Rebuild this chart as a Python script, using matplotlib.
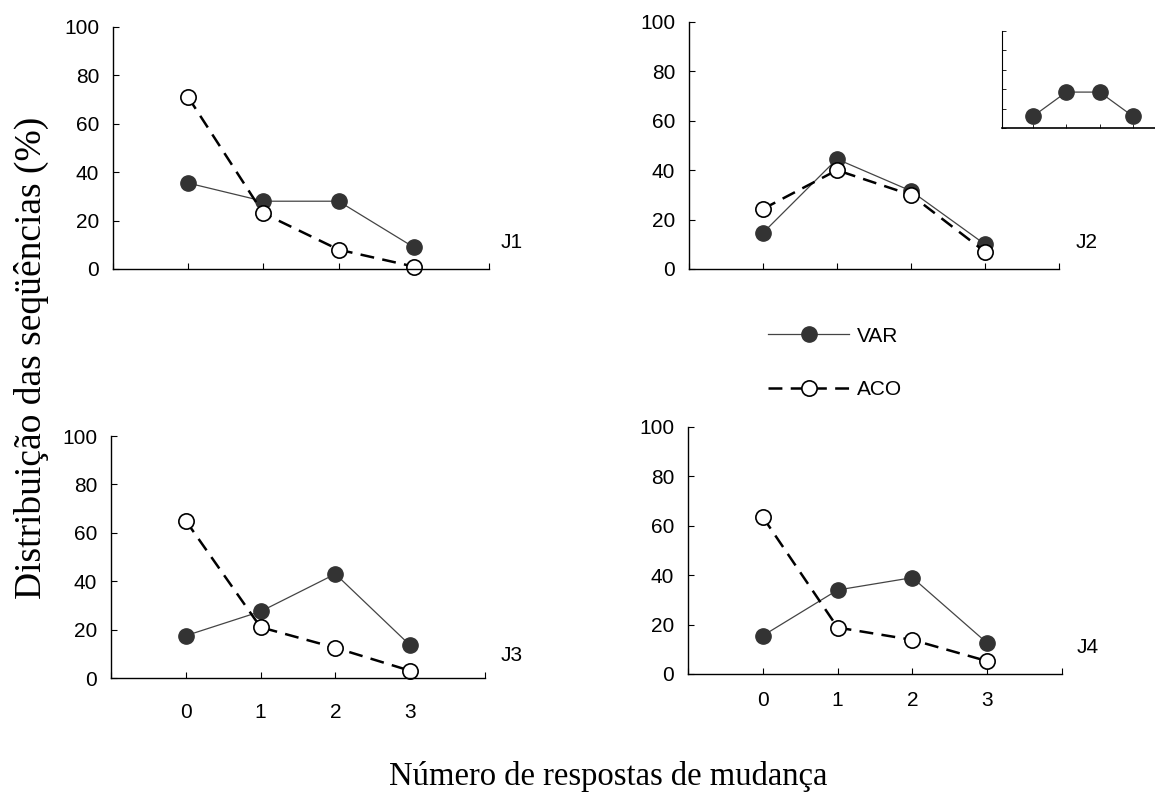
import matplotlib
matplotlib.use('Agg')
import matplotlib.pyplot as plt
from matplotlib.lines import Line2D

plt.rcParams['font.family'] = ['Liberation Sans', 'DejaVu Sans']
plt.rcParams['lines.scale_dashes'] = False

# dados (%)
categorias = [0, 1, 2, 3]
var_j1 = [35.5, 28, 28, 9]
aco_j1 = [71, 23, 8, 1]
var_j2 = [14.6, 44.5, 31.6, 10]
aco_j2 = [24.3, 40, 30, 7]
var_j3 = [17.5, 27.5, 43, 13.5]
aco_j3 = [65, 21, 12.5, 3]
var_j4 = [15.5, 34, 39, 12.5]
aco_j4 = [63.5, 18.8, 13.8, 5.2]
inset_vals = [0.6, 1.85, 1.85, 0.6]
y_ticks = [0, 20, 40, 60, 80, 100]
painel_nomes = ['J1', 'J2', 'J3', 'J4']

fill_c = '#333333'
var_style = dict(color='#444444', lw=0.9, marker='o', ms=11,
                 mfc=fill_c, mec=fill_c)
aco_style = dict(color='black', lw=1.8, dashes=(10, 6), marker='o', ms=11,
                 mfc='white', mec='black', mew=1.2)

fig = plt.figure(figsize=(11.55, 7.96), dpi=100)

# posicoes dos paineis (fracoes da figura)
posicoes = [
    [0.0978, 0.6621, 0.3255, 0.3040],
    [0.5965, 0.6621, 0.3203, 0.3103],
    [0.0961, 0.1482, 0.3238, 0.3040],
    [0.5957, 0.1533, 0.3238, 0.3103],
]
dados = [(var_j1, aco_j1), (var_j2, aco_j2), (var_j3, aco_j3), (var_j4, aco_j4)]
pads_x = [8, 8, 18, 12]
nome_pos = [(0.433, 0.695), (0.931, 0.695), (0.433, 0.177), (0.932, 0.186)]

for i, pos in enumerate(posicoes):
    ax = fig.add_axes(pos)
    v, a = dados[i]
    ax.plot(categorias, v, **var_style)
    ax.plot(categorias, a, **aco_style)
    ax.set_xlim(-1, 4)
    ax.set_ylim(0, 100)
    ax.set_yticks(y_ticks)
    ax.set_xticks([-1, 0, 1, 2, 3, 4])
    if i >= 2:
        ax.set_xticklabels([''] + [str(c) for c in categorias] + [''])
    else:
        ax.set_xticklabels([''] * 6)
    for s in ['top', 'right']:
        ax.spines[s].set_visible(False)
    for s in ['left', 'bottom']:
        ax.spines[s].set_linewidth(1.0)
    ax.tick_params(direction='in', length=4, width=0.8, labelsize=15)
    ax.tick_params(axis='y', pad=10)
    ax.tick_params(axis='x', pad=pads_x[i])
    for c in [ax.lines[0], ax.lines[1]]:
        c.set_clip_on(False)
    fig.text(nome_pos[i][0], nome_pos[i][1], painel_nomes[i], fontsize=15,
             va='center', ha='left')

# inset (esquema)
axi = fig.add_axes([0.8675, 0.8392, 0.1325, 0.1219])
axi.plot(categorias, inset_vals, color='#444444', lw=0.9, marker='o', ms=11,
         mfc=fill_c, mec=fill_c)
axi.set_xlim(-0.93, 3.66)
axi.set_ylim(0, 5)
axi.set_xticks(categorias)
axi.set_yticks([0, 1, 2, 3, 4, 5])
axi.set_xticklabels([])
axi.set_yticklabels([])
axi.tick_params(direction='in', length=3, width=0.6)
for s in ['top', 'right']:
    axi.spines[s].set_visible(False)
axi.spines['left'].set_linewidth(0.8)
axi.spines['bottom'].set_linewidth(1.2)

# legenda
handles = [Line2D([], [], **var_style), Line2D([], [], **aco_style)]
fig.legend(handles, ['VAR', 'ACO'], loc='center left',
           bbox_to_anchor=(0.665, 0.544), frameon=False, fontsize=15,
           handlelength=3.9, handletextpad=0.35, labelspacing=1.65,
           borderpad=0, borderaxespad=0)

fig.text(0.027, 0.55, 'Distribuição das seqüências (%)', rotation=90,
         fontsize=27, family='Liberation Serif', va='center', ha='center')
fig.text(0.527, 0.024, 'Número de respostas de mudança', fontsize=23.5,
         family='Liberation Serif', va='center', ha='center')

fig.savefig('out.png', dpi=100, facecolor='white')
